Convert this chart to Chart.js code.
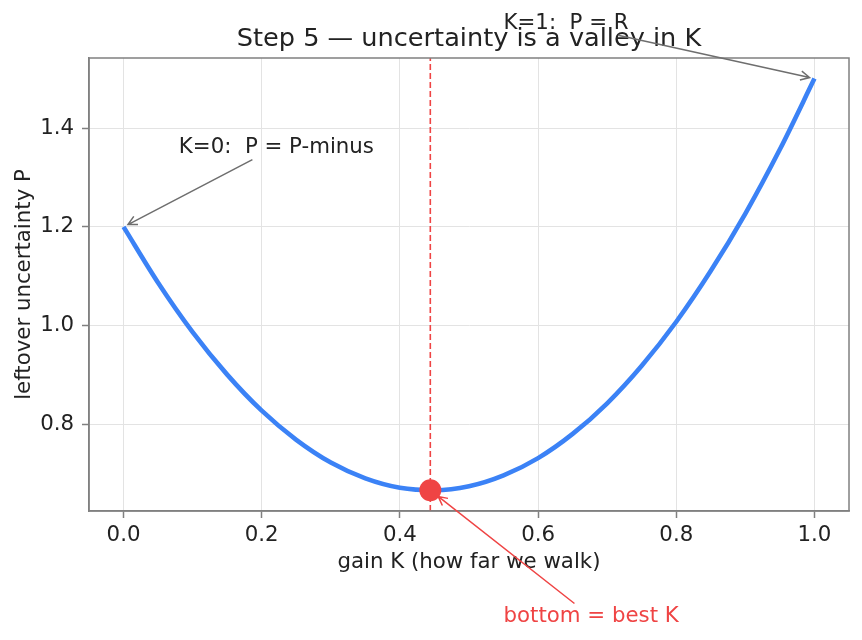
<!DOCTYPE html>
<html>
<head>
<meta charset="utf-8">
<script src="https://cdn.jsdelivr.net/npm/chart.js@4.4.1/dist/chart.umd.min.js"></script>
<style>
  html, body { margin: 0; padding: 0; background: #fff; }
  #wrap { width: 862px; height: 640px; }
</style>
</head>
<body>
<div id="wrap"><canvas id="valleyChart" width="862" height="640"></canvas></div>
<script>
// gain K and leftover uncertainty P
const gainK = [0.00, 0.05, 0.10, 0.15, 0.20, 0.25, 0.30, 0.35, 0.40, 0.45, 0.50,
               0.55, 0.60, 0.65, 0.70, 0.75, 0.80, 0.85, 0.90, 0.95, 1.00];
const leftoverP = [1.200, 1.087, 0.987, 0.901, 0.828, 0.769, 0.723, 0.691, 0.672, 0.667, 0.675,
                   0.697, 0.732, 0.781, 0.843, 0.919, 1.008, 1.111, 1.227, 1.357, 1.500];
const bestK = 0.444;
const bestP = 0.667;
const xTicks = [0.0, 0.2, 0.4, 0.6, 0.8, 1.0];
const yTicks = [0.8, 1.0, 1.2, 1.4];
const xRange = [-0.05, 1.05];
const yRange = [0.625, 1.5417];

const titleText = "Step 5 \u2014 uncertainty is a valley in K";
const xLabel = "gain K (how far we walk)";
const yLabel = "leftover uncertainty P";

const FONT = "'DejaVu Sans', sans-serif";
const FS = 21.3;
const TXT = "#222222";
const BLUE = "#3b82f6";
const RED = "#ef4444";
const GRAY = "#6e6e6e";

// text notes with arrows (text anchor and arrow target in data units)
const notes = [
  { text: "K=1:  P = R", tx: 0.55, ty: 1.60, px: 1.0, py: 1.5, color: TXT, arrow: GRAY, shrink: 5 },
  { text: "K=0:  P = P-minus", tx: 0.08, ty: 1.35, px: 0.0, py: 1.2, color: TXT, arrow: GRAY, shrink: 5 },
  { text: "bottom = best K", tx: 0.55, ty: 0.40, px: bestK, py: bestP, color: RED, arrow: RED, shrink: 10 }
];

function drawNote(ctx, n, x, y) {
  ctx.font = FS + "px " + FONT;
  ctx.textAlign = "left";
  ctx.textBaseline = "alphabetic";
  const lx = x.getPixelForValue(n.tx), ly = y.getPixelForValue(n.ty);
  ctx.fillStyle = n.color;
  ctx.fillText(n.text, lx, ly);

  const w = ctx.measureText(n.text).width;
  const top = ly - 0.76 * FS, bot = ly + 0.24 * FS;
  const cx = lx + w / 2, cy = (top + bot) / 2;
  const px = x.getPixelForValue(n.px), py = y.getPixelForValue(n.py);
  const len = Math.hypot(px - cx, py - cy);
  const ux = (px - cx) / len, uy = (py - cy) / len;
  const tX = ux !== 0 ? (w / 2) / Math.abs(ux) : Infinity;
  const tY = uy !== 0 ? ((bot - top) / 2) / Math.abs(uy) : Infinity;
  const t0 = Math.min(tX, tY) + 4;
  const sx = cx + ux * t0, sy = cy + uy * t0;
  const ex = px - ux * n.shrink, ey = py - uy * n.shrink;

  ctx.strokeStyle = n.arrow;
  ctx.lineWidth = 1.5;
  ctx.beginPath();
  ctx.moveTo(sx, sy);
  ctx.lineTo(ex, ey);
  // open "->" head
  const ang = Math.atan2(uy, ux), hl = 10, ha = 0.47;
  ctx.moveTo(ex - hl * Math.cos(ang - ha), ey - hl * Math.sin(ang - ha));
  ctx.lineTo(ex, ey);
  ctx.lineTo(ex - hl * Math.cos(ang + ha), ey - hl * Math.sin(ang + ha));
  ctx.stroke();
}

const overlay = {
  id: "overlay",
  afterDraw(chart) {
    const { ctx, chartArea: a, scales: { x, y } } = chart;
    ctx.save();
    // frame
    ctx.strokeStyle = "#808080";
    ctx.lineWidth = 1.5;
    ctx.strokeRect(a.left, a.top, a.right - a.left, a.bottom - a.top);

    // title
    ctx.fillStyle = TXT;
    ctx.textAlign = "center";
    ctx.textBaseline = "alphabetic";
    ctx.font = "25.6px " + FONT;
    ctx.fillText(titleText, (a.left + a.right) / 2, 46);

    // axis titles
    ctx.font = FS + "px " + FONT;
    ctx.fillText(xLabel, (a.left + a.right) / 2, 568);
    ctx.save();
    ctx.translate(30, (a.top + a.bottom) / 2);
    ctx.rotate(-Math.PI / 2);
    ctx.fillText(yLabel, 0, 0);
    ctx.restore();

    notes.forEach(n => drawNote(ctx, n, x, y));
    ctx.restore();
  }
};

Chart.defaults.font.family = FONT;
Chart.defaults.color = TXT;

new Chart(document.getElementById("valleyChart"), {
  type: "scatter",
  data: {
    datasets: [
      {
        label: "best",
        data: [{ x: bestK, y: bestP }],
        pointRadius: 11,
        pointHoverRadius: 11,
        backgroundColor: RED,
        borderWidth: 0,
        order: 0
      },
      {
        label: "best K line",
        data: [{ x: bestK, y: yRange[0] }, { x: bestK, y: yRange[1] }],
        showLine: true,
        borderColor: RED,
        borderWidth: 1.6,
        borderDash: [6, 3],
        pointRadius: 0,
        order: 1
      },
      {
        label: "P(K)",
        data: gainK.map((k, i) => ({ x: k, y: leftoverP[i] })),
        showLine: true,
        borderColor: BLUE,
        borderWidth: 4.6,
        cubicInterpolationMode: "monotone",
        pointRadius: 0,
        order: 2
      }
    ]
  },
  options: {
    responsive: false,
    animation: false,
    layout: { padding: { top: 58, right: 13, left: 0, bottom: 0 } },
    plugins: {
      legend: { display: false },
      title: { display: false },
      tooltip: { enabled: false }
    },
    scales: {
      x: {
        type: "linear",
        min: xRange[0],
        max: xRange[1],
        afterBuildTicks: s => { s.ticks = xTicks.map(v => ({ value: v })); },
        afterFit: s => { s.height = 129; },
        ticks: {
          font: { size: FS },
          color: TXT,
          padding: 5,
          maxRotation: 0,
          callback: v => v.toFixed(1)
        },
        grid: { color: "#e3e3e3", lineWidth: 1, tickLength: 7, tickColor: "#808080", tickWidth: 1.5 },
        border: { color: "#808080", width: 1.5 }
      },
      y: {
        type: "linear",
        min: yRange[0],
        max: yRange[1],
        afterBuildTicks: s => { s.ticks = yTicks.map(v => ({ value: v })); },
        afterFit: s => { s.width = 89; },
        ticks: {
          font: { size: FS },
          color: TXT,
          padding: 8,
          callback: v => v.toFixed(1)
        },
        grid: { color: "#e3e3e3", lineWidth: 1, tickLength: 7, tickColor: "#808080", tickWidth: 1.5 },
        border: { color: "#808080", width: 1.5 }
      }
    }
  },
  plugins: [overlay]
});
</script>
</body>
</html>
